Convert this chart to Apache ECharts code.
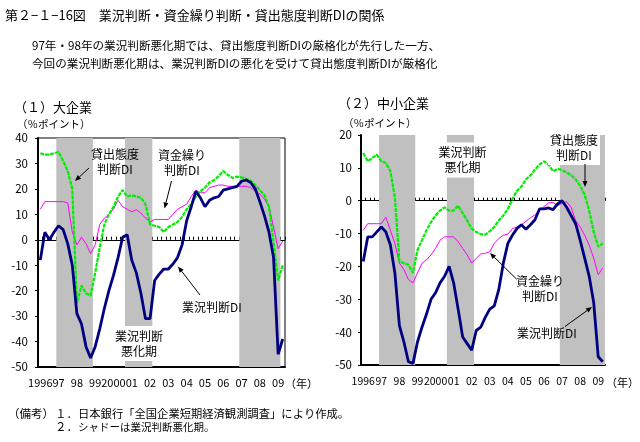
<!DOCTYPE html>
<html><head><meta charset="utf-8">
<script src="https://cdn.jsdelivr.net/npm/echarts@6/dist/echarts.min.js"></script>
<style>html,body{margin:0;padding:0;background:#fff}#c{width:640px;height:442px}</style>
</head><body><div id="c"></div>
<script>
// ---- data ----
const years = ['1996','97','98','99','2000','01','02','03','04','05','06','07','08','09'];
const quarters = ['Q1','Q2','Q3','Q4'];
const nPoints = 54; // 1996Q1 .. 2009Q2
const categories = [];
for (let k = 0; k < years.length; k++) for (let q = 0; q < 4; q++) if (categories.length < nPoints) categories.push(years[k] + quarters[q]);
const yearTickLabels = years;

// (1) 大企業
const largeBusiness = [-8, 3, 0, 3, 5.5, 4, -1.5, -10, -29, -33, -42, -46.5, -42, -35, -27, -20, -14, -7, 1, 2, -8, -13, -21, -31, -31, -16, -13.5, -11.5, -11.5, -9.5, -7, -2, 7.5, 13, 19, 16.5, 13, 15.5, 16.5, 17, 19.5, 20, 20.5, 21, 23, 23.5, 22.5, 20, 15, 9.5, 3, -7, -45, -39];
const largeFunding  = [12, 15, 15, 15, 15, 15, 14.5, 3, -2, 1, -1.5, -5.5, -2, 6, 8.5, 10, 12, 15.5, 13, 12, 11, 11.8, 10.5, 8.5, 7, 8, 8, 8, 8, 10, 12, 13, 14, 17, 19.5, 18.5, 18.5, 20.5, 21, 21.5, 21.5, 21, 21, 21, 21, 21, 20.5, 19, 18, 16, 13, 5, -3.5, -0.5];
const largeLending  = [34, 33.5, 33.5, 34, 34.5, 31, 27, 20, -25, -18, -21, -22, -13, -3, 6, 10, 13, 17, 19.5, 17, 17.5, 17, 16.5, 14, 6, 5.5, 5, 3, 5, 6, 7, 9, 12, 14, 17, 19, 20.5, 22.5, 23.5, 25, 27, 25.5, 24.3, 24.8, 24.5, 24, 23.3, 21.5, 19.5, 17.5, 13, -1, -16, -10];
// (2) 中小企業
const smallBusiness = [-18.5, -11, -11, -9.5, -8, -9.5, -13.5, -22, -38, -43, -49, -49.5, -43, -38.5, -34.5, -30, -28, -25, -23, -20, -25, -33, -41.5, -43.5, -45.5, -39.5, -38.5, -35.5, -33, -32, -27, -19, -13, -10.5, -8.5, -7.3, -8.7, -7.3, -5.8, -2.5, -2.5, -2.2, -2.7, -1, 0, -2, -4.5, -7, -12, -17.5, -23, -31, -47.5, -49];
const smallFunding  = [-9, -7, -7, -7, -7, -5, -9, -13, -19, -21, -24, -25, -22, -19, -18, -16.5, -14.5, -12, -11, -11, -11, -12.5, -14.5, -16.5, -19, -17.5, -16.2, -16, -15.5, -13, -11.5, -10.5, -10.2, -8.5, -8, -7.3, -6.3, -5.2, -4.3, -3, -1.8, -0.7, -0.5, -1.5, -0.8, -0.3, -2, -6, -8, -10.5, -13.5, -17.5, -22.5, -20.5];
const smallLending  = [14.5, 12, 13, 14, 12, 11.5, 9, 1, -18.5, -19, -19.5, -22, -15, -12, -9, -6.5, -4.5, -3, -2, -3, -3, -1.5, -3.8, -6, -8.5, -9.5, -10.2, -10.3, -9.3, -8, -6, -4.5, -2.5, 0.5, 3, 4.3, 6.5, 7.7, 9.5, 11, 12, 11, 9, 9.7, 9.3, 8.6, 7.8, 6.5, 4.5, 1.8, -3, -9.5, -14, -13];
// shaded periods (業況判断悪化期), category index ranges
const shadeLarge = [[4, 11], [19, 24], [44, 52]];
const shadeSmall = [[4, 11], [19, 24], [44, 53]];
const yRangeLarge = [-50, 40];
const yRangeSmall = [-50, 20];

// ---- chart ----
const FONT = "'Noto Sans CJK JP', 'Noto Sans', sans-serif";
const chart = echarts.init(document.getElementById('c'), null, {renderer: 'canvas', width: 640, height: 442});

function xAxesFor(g) {
  return [{
    gridIndex: g, type: 'category', data: categories, position: 'bottom', boundaryGap: true,
    axisLine: {onZero: false, lineStyle: {color: '#000', width: 2}},
    axisTick: {show: false}, splitLine: {show: false},
    axisLabel: {
      interval: (i) => i % 4 === 0, hideOverlap: false, showMinLabel: true, showMaxLabel: true,
      formatter: (v, i) => yearTickLabels[Math.floor(i / 4)],
      color: '#000', fontSize: g === 0 ? 11 : 10.5, fontFamily: FONT, margin: g === 0 ? 10 : 11
    }
  }, {
    gridIndex: g, type: 'category', data: categories, position: 'bottom', boundaryGap: true,
    axisLine: {onZero: true, lineStyle: {color: '#000', width: 1}},
    axisTick: {show: true, inside: true, length: 3, interval: 0, lineStyle: {color: '#000', width: 1}},
    axisLabel: {show: false}, splitLine: {show: false}
  }];
}
function yAxisFor(g, range) {
  return {
    gridIndex: g, type: 'value', min: range[0], max: range[1], interval: 10,
    axisLine: {show: true, onZero: false, lineStyle: {color: '#000', width: 2}},
    axisTick: {show: true, length: 3, lineStyle: {color: '#000'}},
    axisLabel: {color: '#000', fontSize: 11.5, fontFamily: FONT, margin: g === 0 ? 10 : 9},
    splitLine: {show: false}
  };
}
function shadeRender(params, api) {
  const s = api.value(0), e = api.value(1);
  const bw = api.size([1, 0])[0];
  const p0 = api.coord([s, api.value(3)]);
  const p1 = api.coord([e, api.value(2)]);
  return {type: 'rect', shape: {x: p0[0] - bw / 2, y: p0[1], width: p1[0] - p0[0] + bw, height: p1[1] - p0[1]}, style: {fill: '#c0c0c0'}};
}
function seriesFor(g, periods, range, biz, fund, lend) {
  const xi = g * 2, yi = g;
  const common = {xAxisIndex: xi, yAxisIndex: yi, animation: false, silent: true};
  return [
    Object.assign({type: 'custom', renderItem: shadeRender, data: periods.map(p => [p[0], p[1], range[0], range[1]]), encode: {x: [0, 1], y: [2, 3]}, z: 1, clip: false}, common),
    Object.assign({type: 'line', name: '資金繰り判断DI', data: fund, symbol: 'none', lineStyle: {color: '#ff00ff', width: 1}, z: 3}, common),
    Object.assign({type: 'line', name: '貸出態度判断DI', data: lend, symbol: 'none', lineStyle: {color: '#00ee00', width: 2.2, type: [4, 1]}, z: 4}, common),
    Object.assign({type: 'line', name: '業況判断DI', data: biz, symbol: 'none', lineStyle: {color: '#000080', width: 2.8}, z: 5}, common)
  ];
}

function txt(x, y, text, size, opt) {
  return {
    type: 'text', x: x, y: y, z: 100,
    style: Object.assign({text: text, font: size + 'px ' + FONT, fill: '#000', align: 'left', verticalAlign: 'middle'}, opt || {})
  };
}
function arrow(x1, y1, x2, y2) {
  const dx = x2 - x1, dy = y2 - y1, len = Math.sqrt(dx * dx + dy * dy);
  const ux = dx / len, uy = dy / len, hl = 6, hw = 2.5;
  const bx = x2 - ux * hl, by = y2 - uy * hl;
  return [
    {type: 'line', z: 100, shape: {x1: x1, y1: y1, x2: bx, y2: by}, style: {stroke: '#000', lineWidth: 1}},
    {type: 'polygon', z: 100, shape: {points: [[x2, y2], [bx - uy * hw, by + ux * hw], [bx + uy * hw, by - ux * hw]]}, style: {fill: '#000'}}
  ];
}

const labelBox = {align: 'center', lineHeight: 15, backgroundColor: '#fff', padding: [3, 2, 2, 2]};
const labelPlain = {align: 'center', lineHeight: 15};

const graphics = [
  txt(5, 15, '第２−１−16図　業況判断・資金繰り判断・貸出態度判断DIの関係', 13),
  txt(32, 46, '97年・98年の業況判断悪化期では、貸出態度判断DIの厳格化が先行した一方、', 11.6),
  txt(32, 64, '今回の業況判断悪化期は、業況判断DIの悪化を受けて貸出態度判断DIが厳格化', 11.6),
  txt(14, 107, '（１）大企業', 13),
  txt(17, 124, '（％ポイント）', 10.5),
  txt(338, 103, '（２）中小企業', 13),
  txt(343, 123, '（％ポイント）', 10.5),
  txt(285, 384, '（年）', 11),
  txt(606, 383, '（年）', 11),
  // left annotations
  txt(115, 161.5, '貸出態度\n判断DI', 12, labelPlain),
  txt(182, 163, '資金繰り\n判断DI', 12, labelPlain),
  txt(212, 307.5, '業況判断DI', 12, labelPlain),
  txt(139, 343.5, '業況判断\n悪化期', 12, labelBox),
  // right annotations
  txt(462.5, 160, '業況判断\n悪化期', 12, labelBox),
  txt(574, 147.5, '貸出態度\n判断DI', 12, labelBox),
  txt(540, 288.5, '資金繰り\n判断DI', 12, labelPlain),
  txt(547, 333.5, '業況判断DI', 12, labelPlain),
  // notes
  txt(8, 414, '（備考）', 11.5),
  txt(55, 414, '１．', 11.5),
  txt(78, 414, '日本銀行「全国企業短期経済観測調査」により作成。', 11.3),
  txt(55, 427, '２．', 11.5),
  txt(78, 427, 'シャドーは業況判断悪化期。', 10.5)
].concat(
  arrow(89, 168, 75, 181),
  arrow(171.5, 181, 164.5, 208.5),
  arrow(200, 295, 178, 266.5),
  arrow(585, 164, 585, 187),
  arrow(516.5, 279, 490, 253),
  arrow(565, 326.5, 592, 307)
);

chart.setOption({
  backgroundColor: '#fff',
  animation: false,
  textStyle: {fontFamily: FONT},
  grid: [
    {left: 38, top: 138, width: 247, height: 229, show: true, borderColor: '#000', borderWidth: 1, backgroundColor: 'transparent'},
    {left: 361, top: 135, width: 244, height: 230, show: false}
  ],
  xAxis: xAxesFor(0).concat(xAxesFor(1)),
  yAxis: [yAxisFor(0, yRangeLarge), yAxisFor(1, yRangeSmall)],
  series: seriesFor(0, shadeLarge, yRangeLarge, largeBusiness, largeFunding, largeLending)
    .concat(seriesFor(1, shadeSmall, yRangeSmall, smallBusiness, smallFunding, smallLending)),
  graphic: {elements: graphics}
});
</script>
</body></html>
